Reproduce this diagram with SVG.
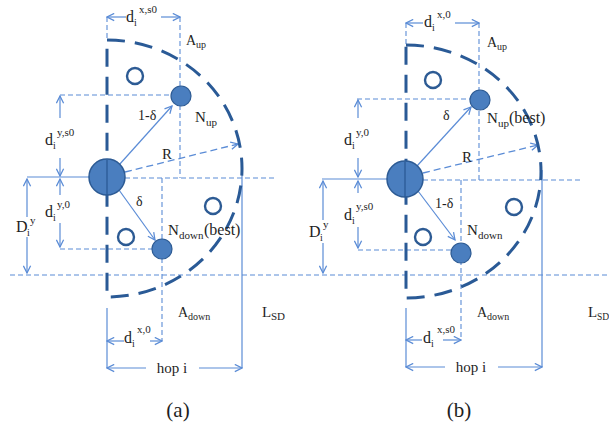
<svg xmlns="http://www.w3.org/2000/svg" width="609" height="427" viewBox="0 0 609 427">
<defs>
<marker id="ah" viewBox="0 0 10 10" refX="9" refY="5" markerWidth="9" markerHeight="9" markerUnits="userSpaceOnUse" orient="auto">
<path d="M1,1 L9,5 L1,9" fill="none" stroke="#5b8cd6" stroke-width="1.4"/>
</marker>
<style>
.dl{stroke:#5b8cd6;stroke-width:1.1;stroke-dasharray:5 3;fill:none}
.sl{stroke:#5b8cd6;stroke-width:1.2;fill:none}
.ar{stroke:#5b8cd6;stroke-width:1.2;fill:none;marker-end:url(#ah)}
.dar{stroke:#5b8cd6;stroke-width:1.3;stroke-dasharray:7 4;fill:none;marker-end:url(#ah)}
.thick{stroke:#2a5a96;stroke-width:3;stroke-dasharray:18 10;fill:none}
.big{fill:#4a7ebf;stroke:#2d5b94;stroke-width:1.5}
.nd{fill:#4a7ebf;stroke:#2d5b94;stroke-width:1.2}
.ho{fill:#fff;stroke:#2d5b94;stroke-width:2.4}
text{font-family:"Liberation Serif","Times New Roman",serif;fill:#1e1e1e}
.f15{font-size:15px}.f14{font-size:14px}.f16{font-size:16px}.f11{font-size:11px}.f10{font-size:10px}.f21{font-size:21px}
</style>
</defs>
<rect width="609" height="427" fill="#fff"/>
<g id="connectors">
<line class="dl" x1="10" y1="275" x2="609" y2="275"/>
<line class="ar" x1="126" y1="17" x2="107" y2="17"/>
<line class="ar" x1="161" y1="17" x2="180" y2="17"/>
<line class="dl" x1="107" y1="17" x2="107" y2="40"/>
<line class="dl" x1="180" y1="17" x2="180" y2="178"/>
<line class="dl" x1="60" y1="95" x2="181" y2="95"/>
<line class="ar" x1="60" y1="118" x2="60" y2="96"/>
<line class="ar" x1="60" y1="158" x2="60" y2="176"/>
<line class="sl" x1="27" y1="177" x2="90" y2="177"/>
<line class="ar" x1="60" y1="195" x2="60" y2="179"/>
<line class="ar" x1="60" y1="223" x2="60" y2="247"/>
<line class="dl" x1="60" y1="249" x2="162" y2="249"/>
<line class="ar" x1="27" y1="217" x2="27" y2="179"/>
<line class="ar" x1="27" y1="237" x2="27" y2="273"/>
<line class="dl" x1="125" y1="178" x2="277" y2="178"/>
<line class="dl" x1="162" y1="178" x2="162" y2="341"/>
<line class="ar" x1="124" y1="341" x2="107" y2="341"/>
<line class="ar" x1="150" y1="341" x2="162" y2="341"/>
<line class="sl" x1="107" y1="308" x2="107" y2="368"/>
<line class="ar" x1="146" y1="368" x2="107" y2="368"/>
<line class="ar" x1="199" y1="368" x2="242" y2="368"/>
<line class="sl" x1="242" y1="168" x2="242" y2="368"/>
<line class="ar" x1="119" y1="165" x2="172" y2="106"/>
<line class="ar" x1="119" y1="190" x2="155" y2="240"/>
<line class="dar" x1="125" y1="172" x2="238" y2="144"/>
<line class="ar" x1="423" y1="23" x2="406" y2="23"/>
<line class="ar" x1="455" y1="23" x2="479" y2="23"/>
<line class="dl" x1="406" y1="23" x2="406" y2="45"/>
<line class="dl" x1="479" y1="23" x2="479" y2="180"/>
<line class="dl" x1="357" y1="99" x2="480" y2="99"/>
<line class="ar" x1="358" y1="118" x2="358" y2="100"/>
<line class="ar" x1="358" y1="158" x2="358" y2="177"/>
<line class="sl" x1="322" y1="179" x2="390" y2="179"/>
<line class="ar" x1="358" y1="193" x2="358" y2="181"/>
<line class="ar" x1="358" y1="227" x2="358" y2="248"/>
<line class="dl" x1="358" y1="250" x2="461" y2="250"/>
<line class="ar" x1="323" y1="220" x2="323" y2="181"/>
<line class="ar" x1="323" y1="243" x2="323" y2="273"/>
<line class="dl" x1="423" y1="180" x2="582" y2="180"/>
<line class="dl" x1="461" y1="180" x2="461" y2="340"/>
<line class="ar" x1="422" y1="340" x2="406" y2="340"/>
<line class="ar" x1="443" y1="340" x2="461" y2="340"/>
<line class="sl" x1="406" y1="308" x2="406" y2="367"/>
<line class="ar" x1="445" y1="367" x2="406" y2="367"/>
<line class="ar" x1="498" y1="367" x2="542" y2="367"/>
<line class="sl" x1="542" y1="170" x2="542" y2="367"/>
<line class="ar" x1="417" y1="166" x2="471" y2="107"/>
<line class="ar" x1="418" y1="191" x2="455" y2="240"/>
<line class="dar" x1="423" y1="173" x2="538" y2="145"/>
</g>
<g id="areas">
<path class="thick" d="M107,40 A135,128.5 0 0 1 107,297 Z"/>
<path class="thick" d="M406,45 A135,126.5 0 0 1 406,298 Z"/>
</g>
<g id="node-a-source"><circle class="big" cx="107" cy="177" r="18"/><line x1="107" y1="160" x2="107" y2="195" stroke="#2a5a96" stroke-width="1.3"/></g>
<g id="node-a-nup"><circle class="nd" cx="181" cy="96" r="10"/></g>
<g id="node-a-ndown"><circle class="nd" cx="162" cy="249" r="10"/></g>
<g id="node-a-o1"><circle class="ho" cx="135" cy="76" r="8"/></g>
<g id="node-a-o2"><circle class="ho" cx="126" cy="237" r="8"/></g>
<g id="node-a-o3"><circle class="ho" cx="213" cy="206" r="8"/></g>
<g id="node-b-source"><circle class="big" cx="405" cy="179" r="18"/><line x1="405" y1="162" x2="405" y2="197" stroke="#2a5a96" stroke-width="1.3"/></g>
<g id="node-b-nup"><circle class="nd" cx="480" cy="100" r="10"/></g>
<g id="node-b-ndown"><circle class="nd" cx="461" cy="253" r="10"/></g>
<g id="node-b-o1"><circle class="ho" cx="433" cy="80" r="8"/></g>
<g id="node-b-o2"><circle class="ho" cx="423" cy="237" r="8"/></g>
<g id="node-b-o3"><circle class="ho" cx="514" cy="207" r="8"/></g>
<g id="labels-a">
<text x="126" y="22" class="f16">d</text><text x="134" y="26" class="f10">i</text><text x="139" y="13" class="f11">x,s0</text>
<text x="186" y="45" class="f14">A</text><text x="196" y="48" class="f10">up</text>
<text x="138" y="120" class="f14">1-δ</text>
<text x="195" y="122" class="f15">N</text><text x="206" y="126" class="f11">up</text>
<text x="45" y="145" class="f16">d</text><text x="53" y="149" class="f10">i</text><text x="57" y="136" class="f11">y,s0</text>
<text x="162" y="159" class="f15">R</text>
<text x="136" y="206" class="f14">δ</text>
<text x="45" y="217" class="f16">d</text><text x="53" y="221" class="f10">i</text><text x="57" y="208" class="f11">y,0</text>
<text x="16" y="232" class="f16">D</text><text x="27" y="236" class="f10">i</text><text x="30" y="224" class="f11">y</text>
<text x="168" y="235" class="f15">N</text><text x="179" y="239" class="f11">down</text><text x="204" y="235" class="f16">(best)</text>
<text x="178" y="317" class="f14">A</text><text x="188" y="320" class="f10">down</text>
<text x="262" y="317" class="f15">L</text><text x="271" y="320" class="f11">SD</text>
<text x="124" y="343" class="f16">d</text><text x="132" y="347" class="f10">i</text><text x="137" y="333" class="f11">x,0</text>
<text x="172" y="373" class="f15" text-anchor="middle">hop i</text>
<text x="178" y="417" class="f21" text-anchor="middle">(a)</text>
</g>
<g id="labels-b">
<text x="424" y="27" class="f16">d</text><text x="432" y="31" class="f10">i</text><text x="437" y="18" class="f11">x,0</text>
<text x="487" y="47" class="f14">A</text><text x="497" y="50" class="f10">up</text>
<text x="443" y="120" class="f14">δ</text>
<text x="487" y="123" class="f15">N</text><text x="498" y="127" class="f11">up</text><text x="509" y="123" class="f16">(best)</text>
<text x="344" y="145" class="f16">d</text><text x="352" y="149" class="f10">i</text><text x="356" y="136" class="f11">y,0</text>
<text x="462" y="162" class="f15">R</text>
<text x="435" y="208" class="f14">1-δ</text>
<text x="344" y="220" class="f16">d</text><text x="352" y="224" class="f10">i</text><text x="356" y="210" class="f11">y,s0</text>
<text x="309" y="237" class="f16">D</text><text x="320" y="241" class="f10">i</text><text x="323" y="228" class="f11">y</text>
<text x="467" y="235" class="f15">N</text><text x="478" y="239" class="f11">down</text>
<text x="477" y="317" class="f14">A</text><text x="487" y="320" class="f10">down</text>
<text x="588" y="317" class="f15">L</text><text x="597" y="320" style="font-size:9.5px">SD</text>
<text x="423" y="343" class="f16">d</text><text x="431" y="347" class="f10">i</text><text x="437" y="333" class="f11">x,s0</text>
<text x="471" y="372" class="f15" text-anchor="middle">hop i</text>
<text x="459" y="417" class="f21" text-anchor="middle">(b)</text>
</g>
</svg>
